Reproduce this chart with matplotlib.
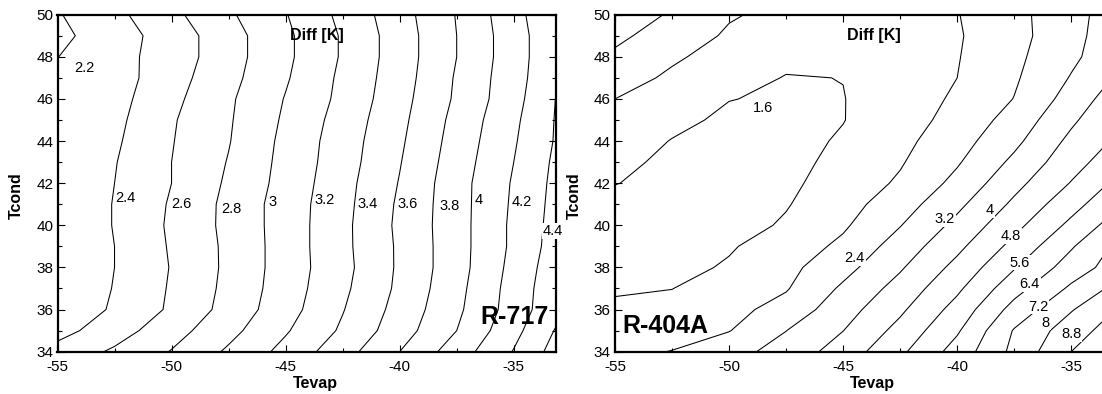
import numpy as np
import matplotlib
matplotlib.use('Agg')
import matplotlib.pyplot as plt
from matplotlib.ticker import MultipleLocator

plt.rcParams['font.family'] = ['Liberation Sans', 'DejaVu Sans']
plt.rcParams['axes.unicode_minus'] = False

# evaporation temperature nodes (columns of both grids)
tevap = [-55, -52.5, -50, -47.5, -45, -42.5, -40, -37.5, -35, -32.5]
# condensing temperature nodes (rows of both grids)
tcond = [34, 35, 36, 37, 38, 39, 40, 41, 42, 43, 44, 45, 46, 47, 48, 49, 50]

# R-717: Diff [K]
diff_717 = [
    [2.47, 2.63, 2.81, 3.03, 3.26, 3.52, 3.80, 4.10, 4.41, 4.77],
    [2.33, 2.51, 2.72, 2.94, 3.18, 3.43, 3.71, 4.00, 4.34, 4.71],
    [2.23, 2.43, 2.63, 2.87, 3.12, 3.39, 3.67, 3.96, 4.29, 4.63],
    [2.22, 2.41, 2.62, 2.85, 3.10, 3.36, 3.64, 3.94, 4.28, 4.62],
    [2.22, 2.40, 2.61, 2.84, 3.09, 3.34, 3.63, 3.92, 4.26, 4.60],
    [2.21, 2.40, 2.62, 2.84, 3.09, 3.35, 3.63, 3.92, 4.24, 4.57],
    [2.21, 2.41, 2.63, 2.85, 3.09, 3.35, 3.64, 3.92, 4.24, 4.55],
    [2.21, 2.41, 2.62, 2.85, 3.09, 3.34, 3.63, 3.92, 4.23, 4.54],
    [2.21, 2.40, 2.60, 2.83, 3.07, 3.33, 3.61, 3.92, 4.22, 4.53],
    [2.21, 2.39, 2.60, 2.81, 3.06, 3.31, 3.59, 3.90, 4.20, 4.52],
    [2.21, 2.37, 2.59, 2.79, 3.05, 3.30, 3.57, 3.88, 4.18, 4.50],
    [2.21, 2.35, 2.58, 2.78, 3.03, 3.28, 3.55, 3.86, 4.16, 4.50],
    [2.22, 2.33, 2.55, 2.77, 3.01, 3.25, 3.53, 3.83, 4.13, 4.50],
    [2.215, 2.31, 2.52, 2.74, 2.98, 3.24, 3.51, 3.82, 4.12, 4.45],
    [2.197, 2.33, 2.49, 2.72, 2.96, 3.22, 3.50, 3.80, 4.11, 4.44],
    [2.15, 2.31, 2.49, 2.72, 2.96, 3.22, 3.50, 3.80, 4.11, 4.44],
    [2.185, 2.35, 2.55, 2.77, 2.99, 3.25, 3.52, 3.81, 4.13, 4.46],
]
levels_717 = [2.2, 2.4, 2.6, 2.8, 3.0, 3.2, 3.4, 3.6, 3.8, 4.0, 4.2, 4.4, 4.6]
labval_717 = [2.2, 2.4, 2.6, 2.8, 3, 3.2, 3.4, 3.6, 3.8, 4, 4.2, 4.4]
labx_717 = [-53.82, -52.02, -49.57, -47.38, -45.57, -43.29, -41.4, -39.65, -37.82, -36.54, -34.66, -33.29]
laby_717 = [47.47, 41.3, 41.01, 40.78, 41.1, 41.2, 41.0, 41.0, 40.9, 41.2, 41.1, 39.73]

# R-404A: Diff [K]
diff_404 = [
    [2.23, 2.42, 2.91, 3.51, 4.36, 5.44, 6.72, 8.21, 9.60, 10.9],
    [2.00, 2.12, 2.37, 3.19, 3.99, 5.05, 6.30, 8.06, 9.23, 10.2],
    [1.76, 1.82, 2.16, 2.69, 3.67, 4.66, 5.89, 7.49, 8.74, 9.86],
    [1.50, 1.59, 1.95, 2.34, 3.33, 4.29, 5.45, 6.90, 8.14, 9.25],
    [1.35, 1.38, 1.68, 2.18, 2.93, 3.91, 5.03, 6.34, 7.57, 8.58],
    [1.28, 1.30, 1.53, 1.96, 2.57, 3.55, 4.61, 5.84, 7.12, 8.42],
    [1.28, 1.27, 1.30, 1.69, 2.29, 3.17, 4.21, 5.37, 6.59, 7.84],
    [1.38, 1.30, 1.32, 1.55, 2.10, 2.83, 3.82, 4.95, 6.10, 7.30],
    [1.62, 1.40, 1.33, 1.45, 1.93, 2.51, 3.42, 4.56, 5.64, 6.81],
    [1.81, 1.42, 1.36, 1.37, 1.81, 2.33, 3.12, 4.17, 5.29, 6.26],
    [2.01, 1.57, 1.43, 1.36, 1.68, 2.19, 2.88, 3.81, 4.99, 5.90],
    [2.20, 1.80, 1.45, 1.43, 1.58, 2.06, 2.66, 3.51, 4.66, 5.74],
    [2.40, 2.03, 1.62, 1.50, 1.58, 2.01, 2.51, 3.22, 4.32, 5.48],
    [2.73, 2.27, 1.93, 1.56, 1.61, 2.06, 2.40, 3.10, 4.05, 5.10],
    [3.06, 2.51, 2.10, 1.80, 1.78, 2.00, 2.36, 3.02, 3.84, 4.71],
    [3.38, 2.81, 2.30, 2.05, 1.95, 2.10, 2.33, 2.93, 3.76, 4.64],
    [3.74, 3.10, 2.47, 2.20, 2.05, 2.15, 2.37, 2.97, 3.73, 4.57],
]
levels_404 = [1.6, 2.4, 3.2, 4.0, 4.8, 5.6, 6.4, 7.2, 8.0, 8.8, 9.6]
labval_404 = [1.6, 2.4, 3.2, 4, 4.8, 5.6, 6.4, 7.2, 8, 8.8]
labx_404 = [-48.5, -44.49, -40.55, -38.57, -37.63, -37.26, -36.82, -36.46, -36.12, -35.0]
laby_404 = [45.56, 38.43, 40.29, 40.73, 39.49, 38.23, 37.2, 36.14, 35.38, 34.84]


def panel(ax, z, levels, labval, labx, laby):
    ax.contour(tevap, tcond, np.array(z), levels=levels, colors='k', linewidths=0.75)
    for v, x, y in zip(labval, labx, laby):
        ax.text(x, y, '%g' % v, ha='center', va='center', fontsize=10.5,
                bbox=dict(fc='white', ec='none', pad=0.6), clip_on=False, zorder=5)
    ax.set_xlim(-55, -33.15)
    ax.set_ylim(34, 50)
    ax.set_xticks([-55, -50, -45, -40, -35])
    ax.xaxis.set_minor_locator(MultipleLocator(2.5))
    ax.set_yticks(range(34, 51, 2))
    ax.yaxis.set_minor_locator(MultipleLocator(1))
    ax.tick_params(which='both', direction='in', top=True, right=True, labelsize=11)
    ax.tick_params(which='major', length=5, width=0.8)
    ax.tick_params(which='minor', length=3, width=0.8)
    ax.tick_params(axis='x', pad=6)
    ax.tick_params(axis='y', pad=3)
    for s in ax.spines.values():
        s.set_linewidth(1.6)
    ax.text(0.52, 0.937, 'Diff [K]', transform=ax.transAxes, ha='center', va='center',
            fontsize=11.5, fontweight='bold')
    ax.text(0.517, -0.093, 'Tevap', transform=ax.transAxes, ha='center', va='center',
            fontsize=11.5, fontweight='bold')
    ax.text(-0.082, 0.462, 'Tcond', transform=ax.transAxes, ha='center', va='center',
            rotation=90, fontsize=11.5, fontweight='bold')


fig = plt.figure(figsize=(11.02, 3.94), dpi=100)
ax1 = fig.add_axes([57.5 / 1102, 0.1074, 0.4523, 0.8553])
ax2 = fig.add_axes([615 / 1102, 0.1074, 0.4523, 0.8553])

panel(ax1, diff_717, levels_717, labval_717, labx_717, laby_717)
panel(ax2, diff_404, levels_404, labval_404, labx_404, laby_404)

ax1.text(0.985, 0.103, 'R-717', transform=ax1.transAxes, ha='right', va='center',
         fontsize=18, fontweight='bold', zorder=6)
ax2.text(0.014, 0.076, 'R-404A', transform=ax2.transAxes, ha='left', va='center',
         fontsize=18, fontweight='bold', zorder=6)

fig.savefig('out.png', dpi=100)
